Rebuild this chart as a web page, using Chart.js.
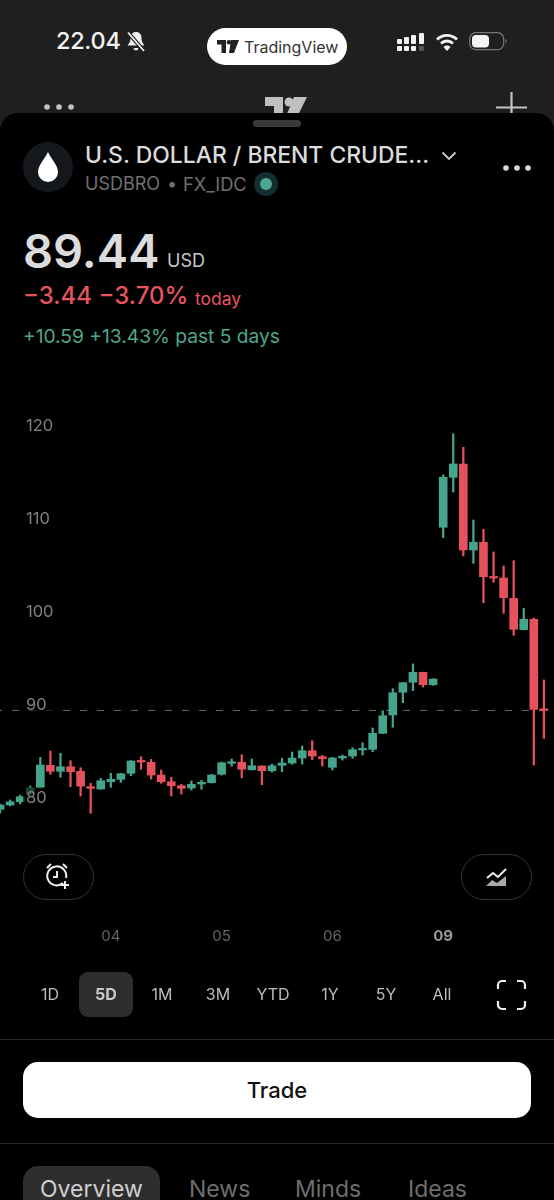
<!DOCTYPE html>
<html><head><meta charset="utf-8">
<script src="https://cdn.jsdelivr.net/npm/chart.js@4"></script>
<style>
html,body{margin:0;padding:0;background:#1f1f1f;width:554px;height:1200px;overflow:hidden;font-family:Inter,Roboto,sans-serif}
#sheet{position:absolute;left:0;top:113px;width:554px;height:1087px;background:#000;border-radius:18px 18px 0 0}
.t{position:absolute;white-space:nowrap;line-height:1}
.c{transform:translateX(-50%)}
svg{position:absolute;overflow:visible}
#wrap{position:absolute;left:-5px;top:400px;width:564px;height:550px}
.dot{position:absolute;border-radius:50%}
</style></head><body>
<!-- top bar -->
<div class="t" style="left:56px;top:29px;font-size:23.500px;font-weight:500;color:#f2f2f2;letter-spacing:-.3px">22.04</div>
<svg style="left:126px;top:31px" width="20" height="22" viewBox="0 0 20 22"><path d="M10 1c3.500 0 5.500 2.500 5.500 6 0 4 1.500 5.500 3 7.500H1.500C3 12.500 4.500 11 4.500 7 4.500 3.500 6.500 1 10 1zM7.500 17h5c-.3 1.700-1.200 2.500-2.500 2.500S7.800 18.700 7.500 17z" fill="#eee"/><path d="M2 1.500L18 20" stroke="#1f1f1f" stroke-width="4"/><path d="M2 1.500L18 20" stroke="#eee" stroke-width="1.800"/></svg>
<div style="position:absolute;left:207px;top:28px;width:140px;height:37px;border-radius:19px;background:#fff"></div>
<svg style="left:217px;top:40px" width="22" height="13" viewBox="0 0 22 13"><path d="M0 0h9v13H4.500V4.500H0zM14 0h8l-5 13h-5z" fill="#222"/><circle cx="12" cy="2.300" r="2.300" fill="#222"/></svg>
<div class="t" style="left:244px;top:39px;font-size:16px;color:#333">TradingView</div>
<svg style="left:397px;top:33px" width="30" height="20" viewBox="0 0 30 20"><g fill="#f2f2f2"><rect x="0" y="6" width="5" height="5" rx="1"/><rect x="0" y="13" width="5" height="5" rx="1"/><rect x="7" y="4" width="5" height="7" rx="1"/><rect x="7" y="13" width="5" height="5" rx="1"/><rect x="14" y="2" width="5" height="9" rx="1"/><rect x="14" y="13" width="5" height="5" rx="1"/><rect x="22" y="0" width="5" height="11" rx="1"/></g><rect x="22" y="13" width="5" height="5" rx="1" fill="#555"/></svg>
<svg style="left:435px;top:32px" width="24" height="20" viewBox="0 0 24 20"><g fill="none" stroke="#f2f2f2" stroke-width="2.800"><path d="M2 7.500a14 14 0 0 1 20 0"/><path d="M6 11.500a8.500 8.500 0 0 1 12 0"/></g><path d="M12 19l-3.500-4a5 5 0 0 1 7 0z" fill="#f2f2f2"/></svg>
<svg style="left:469px;top:32px" width="40" height="20" viewBox="0 0 40 20"><rect x=".7" y=".7" width="34" height="17" rx="6" fill="none" stroke="#777" stroke-width="1.200"/><rect x="3" y="3" width="17" height="12.500" rx="4" fill="#f4f4f4"/><path d="M36.500 7c1.500.5 1.500 4 0 4.500z" fill="#777"/></svg>
<svg style="left:41px;top:101px" width="36" height="10"><circle cx="6" cy="6" r="2.800" fill="#c4c4c4"/><circle cx="18" cy="6" r="2.800" fill="#c4c4c4"/><circle cx="30" cy="6" r="2.800" fill="#c4c4c4"/></svg>
<svg style="left:265px;top:97px" width="42" height="24" viewBox="0 0 42 24"><path d="M0 0h18v24H9V9H0zM29 0h13L30 24H19z" fill="#c0c0c0"/><circle cx="24" cy="5" r="4.500" fill="#c0c0c0"/></svg>
<svg style="left:496px;top:92px" width="31" height="31"><path d="M15.500 0v31M0 15.500h31" stroke="#c4c4c4" stroke-width="2.200"/></svg>
<div id="sheet"></div>
<div style="position:absolute;left:253px;top:120px;width:48px;height:7px;border-radius:4px;background:#3a3a3a"></div>
<!-- header -->
<div class="dot" style="left:23px;top:142px;width:50px;height:50px;background:#14181c"></div>
<svg style="left:38px;top:152px" width="20" height="30" viewBox="0 0 20 30"><path d="M10 0C13 7 20 13 20 20a10 10 0 0 1-20 0C0 13 7 7 10 0z" fill="#fff"/></svg>
<div class="t" style="left:85px;top:144px;font-size:22.900px;font-weight:500;color:#dcdcdc">U.S. DOLLAR / BRENT CRUDE...</div>
<svg style="left:441px;top:151px" width="16" height="10"><path d="M1.500 1.500L8 8l6.500-6.500" fill="none" stroke="#ccc" stroke-width="1.800"/></svg>
<svg style="left:501px;top:162px" width="32" height="12"><circle cx="5" cy="6" r="2.800" fill="#dcdcdc"/><circle cx="16" cy="6" r="2.800" fill="#dcdcdc"/><circle cx="27" cy="6" r="2.800" fill="#dcdcdc"/></svg>
<div class="t" style="left:85px;top:175px;font-size:18px;color:#707070">USDBRO</div>
<div class="t c" style="left:172px;top:175px;font-size:18px;color:#707070">•</div>
<div class="t" style="left:183px;top:175px;font-size:18.300px;color:#707070">FX_IDC</div>
<div class="dot" style="left:254px;top:172px;width:24px;height:24px;background:#12302e"></div>
<div class="dot" style="left:260px;top:178px;width:12px;height:12px;background:#4da68f"></div>
<div class="t" style="left:23px;top:227px;font-size:47px;font-weight:600;color:#dcdcdc">89.44</div>
<div class="t" style="left:167px;top:252px;font-size:18px;color:#c8c8c8">USD</div>
<div class="t" style="left:23px;top:284px;font-size:24px;font-weight:500;color:#e5555f">−3.44 −3.70%</div>
<div class="t" style="left:195px;top:290px;font-size:17.500px;color:#e5555f">today</div>
<div class="t" style="left:23px;top:327px;font-size:19.200px;color:#4fa58d">+10.59 +13.43% past 5 days</div>
<!-- chart -->
<div id="wrap"><canvas id="chart" width="564" height="550" style="width:564px;height:550px;display:block"></canvas></div>
<!-- pills -->
<div style="position:absolute;left:23px;top:854px;width:69px;height:44px;border:1px solid #333;border-radius:23px"></div>
<svg style="left:45px;top:862px" width="26" height="28" viewBox="0 0 26 28" fill="none" stroke="#eee" stroke-width="2"><path d="M18 21a9.500 9.500 0 1 1 3-5"/><path d="M12 9v6h-4"/><path d="M2 6l4-4M22 6l-4-4"/><path d="M20 19v8M16 23h8"/></svg>
<div style="position:absolute;left:461px;top:854px;width:69px;height:44px;border:1px solid #333;border-radius:23px"></div>
<svg style="left:486px;top:868px" width="21" height="19" viewBox="0 0 21 19"><path d="M1 10l6-5 5 4 8-8" fill="none" stroke="#eee" stroke-width="2"/><path d="M0 18l6-6 5 3 9-7v10z" fill="#aaa"/></svg>
<!-- ranges -->
<div style="position:absolute;left:79px;top:972px;width:54px;height:45px;border-radius:9px;background:#2e2e2e"></div>
<div class="t c" style="left:50px;top:986px;font-size:16px;color:#bdbdbd">1D</div>
<div class="t c" style="left:106px;top:986px;font-size:16px;font-weight:700;color:#c8c8c8">5D</div>
<div class="t c" style="left:162px;top:986px;font-size:16px;color:#bdbdbd">1M</div>
<div class="t c" style="left:218px;top:986px;font-size:16px;color:#bdbdbd">3M</div>
<div class="t c" style="left:273px;top:986px;font-size:16px;color:#bdbdbd">YTD</div>
<div class="t c" style="left:330px;top:986px;font-size:16px;color:#bdbdbd">1Y</div>
<div class="t c" style="left:386px;top:986px;font-size:16px;color:#bdbdbd">5Y</div>
<div class="t c" style="left:442px;top:986px;font-size:16px;color:#bdbdbd">All</div>
<svg style="left:497px;top:980px" width="29" height="30" fill="none" stroke="#eee" stroke-width="2.200"><path d="M1 9V5a4 4 0 0 1 4-4h4M20 1h4a4 4 0 0 1 4 4v4M28 21v4a4 4 0 0 1-4 4h-4M9 29H5a4 4 0 0 1-4-4v-4"/></svg>
<div style="position:absolute;left:0;top:1039px;width:554px;height:1px;background:#262626"></div>
<div style="position:absolute;left:23px;top:1062px;width:508px;height:56px;border-radius:15px;background:#fff"></div>
<div class="t c" style="left:277px;top:1079px;font-size:22px;font-weight:500;color:#111">Trade</div>
<div style="position:absolute;left:0;top:1143px;width:554px;height:1px;background:#262626"></div>
<div style="position:absolute;left:23px;top:1166px;width:137px;height:50px;border-radius:15px;background:#2e2e2e"></div>
<div class="t" style="left:40px;top:1178px;font-size:23px;color:#cfcfcf">Overview</div>
<div class="t" style="left:189px;top:1178px;font-size:23px;color:#6e6e6e">News</div>
<div class="t" style="left:295px;top:1178px;font-size:23px;color:#6e6e6e">Minds</div>
<div class="t" style="left:408px;top:1178px;font-size:23px;color:#6e6e6e">Ideas</div>
<script>
const opens=[78.82,79.28,79.63,80.46,81.14,83.54,82.90,83.39,82.90,81.25,81.00,81.78,82.04,82.69,84.04,83.87,82.50,81.78,81.35,81.11,81.54,81.68,82.58,83.76,83.87,83.07,83.47,82.96,83.54,83.79,84.33,85.11,84.47,83.33,84.33,84.54,85.19,85.26,86.98,88.95,91.39,92.46,93.53,92.20,109.11,114.48,115.91,106.67,107.50,103.77,103.66,101.48,98.11,99.23,89.56];
const closes=[79.28,79.63,80.17,81.11,83.58,82.90,83.39,82.86,81.32,81.07,81.89,82.04,82.64,84.01,83.90,82.50,81.78,81.35,81.07,81.50,81.72,82.50,83.82,83.90,83.12,83.50,82.96,83.50,83.79,84.33,85.11,84.54,84.25,84.33,84.51,85.22,85.30,86.98,88.87,91.34,92.42,93.53,92.20,92.81,114.48,115.91,106.67,107.50,103.80,103.66,101.55,98.15,99.23,89.56,89.44];
const highs=[79.39,79.82,80.35,81.32,84.40,85.08,84.83,84.04,83.29,81.61,82.15,82.69,82.69,84.05,84.47,84.19,83.04,82.26,81.50,81.86,81.93,82.58,83.90,84.22,84.68,84.22,83.50,83.68,84.30,84.97,85.62,86.19,84.62,84.40,84.65,85.44,85.97,87.55,89.41,91.77,92.46,94.43,93.55,92.85,114.73,119.16,117.70,109.89,108.89,106.46,104.95,105.52,100.41,99.37,92.71];
const lows=[78.42,79.17,79.39,80.35,81.07,82.58,82.26,81.25,80.25,78.39,80.97,81.18,81.72,82.43,83.12,82.07,81.61,80.25,80.46,80.89,80.97,81.64,82.50,83.44,82.21,83.04,81.46,82.82,82.86,83.65,83.68,84.15,83.47,83.04,84.11,84.30,84.65,85.01,86.94,87.63,90.27,91.56,91.95,92.14,107.99,112.90,106.03,105.24,101.01,103.20,99.87,97.51,98.08,83.58,86.44];
const xTickSlots=[11,22,33,44];
const xTickLabels=['04','05','06','09'];
const yTicks=[80,90,100,110,120];
const lastPrice=89.44;
const categories=opens.map((_,i)=>String(i)).concat(['']);
const UP='#45a58c',DOWN='#e5525e';
const candleColor=c=>closes[c.dataIndex]>=opens[c.dataIndex]?UP:DOWN;
const overlay={id:'overlay',
 beforeDatasetsDraw(ch){const y=ch.scales.y.getPixelForValue(lastPrice),g=ch.ctx;g.save();g.strokeStyle='#6b6b6b';g.lineWidth=1;g.setLineDash([7,10]);g.beginPath();g.moveTo(0,y);g.lineTo(564,y);g.stroke();g.restore();},
 afterDatasetsDraw(ch){const s=ch.scales.y,g=ch.ctx;g.save();g.fillStyle='rgba(0,0,0,.6)';yTicks.forEach(v=>{const y=s.getPixelForValue(v);g.fillRect(28,y-11,34,22);});g.restore();}
};
new Chart(document.getElementById('chart'),{
 type:'bar',
 data:{labels:categories,datasets:[
  {label:'wick',data:opens.map((_,i)=>[lows[i],highs[i]]),backgroundColor:candleColor,barThickness:1.6,grouped:false,order:2},
  {label:'body',data:opens.map((o,i)=>[o,closes[i]]),backgroundColor:candleColor,barThickness:8,minBarLength:1.6,grouped:false,order:1}
 ]},
 options:{responsive:false,animation:false,devicePixelRatio:1,
  layout:{padding:0},
  plugins:{legend:{display:false},tooltip:{enabled:false}},
  scales:{
   x:{type:'category',offset:true,grid:{display:false},border:{display:false},
      afterFit(s){s.height=100;s.paddingLeft=0;s.paddingRight=0;},
      ticks:{autoSkip:false,maxRotation:0,minRotation:0,padding:69,
        callback:(v,i)=>{const k=xTickSlots.indexOf(i);return k<0?'':xTickLabels[k];},
        color:c=>c.index===44?'#9a9a9a':'#666',
        font:c=>({family:'Inter',size:15,weight:c.index===44?'700':'400'})}},
   y:{type:'linear',min:74.45,max:122.78,position:'left',grid:{display:false},border:{display:false},
      afterFit(s){s.width=0;s.paddingTop=0;s.paddingBottom=0;},
      ticks:{z:1,mirror:true,padding:31,stepSize:10,includeBounds:false,color:'#808080',font:{family:'Inter',size:16.5},drawTicks:false}}
  }},
 plugins:[overlay]
});
</script>
</body></html>
